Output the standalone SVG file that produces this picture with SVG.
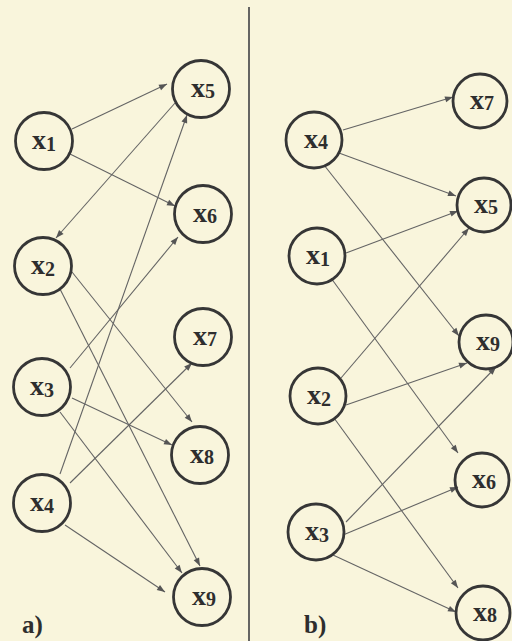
<svg xmlns="http://www.w3.org/2000/svg" width="512" height="641" viewBox="0 0 512 641">
<style>
.bg{fill:#f9f5dc}
.node circle{fill:none;stroke:#363636;stroke-width:2.8}
.node text{font-family:"Liberation Serif","Times New Roman",serif;font-weight:bold;fill:#2e2e2e;text-anchor:middle}
.lx{font-size:28px}
.ld{font-size:20px}
.edges line{stroke:#646464;stroke-width:1.1;marker-end:url(#arr)}
.cap{font-family:"Liberation Serif","Times New Roman",serif;font-weight:bold;font-size:25px;fill:#2e2e2e}
</style>
<defs>
<marker id="arr" viewBox="0 0 8 6" refX="8" refY="3" markerWidth="8" markerHeight="6" markerUnits="userSpaceOnUse" orient="auto" overflow="visible">
<path d="M0,0 L8,3 L0,6 Z" fill="#555"/>
</marker>
</defs>
<rect class="bg" x="0" y="0" width="512" height="641"/>
<line x1="249" y1="7" x2="249" y2="641" stroke="#555" stroke-width="1.8"/>
<g class="edges">
<line x1="72" y1="129" x2="167" y2="84"/>
<line x1="68" y1="153" x2="175" y2="206"/>
<line x1="175" y1="103" x2="56" y2="238"/>
<line x1="70" y1="368" x2="178" y2="237"/>
<line x1="60" y1="474" x2="187" y2="115"/>
<line x1="72" y1="272" x2="192" y2="422"/>
<line x1="60" y1="289" x2="200" y2="566"/>
<line x1="72" y1="398" x2="172" y2="445"/>
<line x1="60" y1="412" x2="182" y2="573"/>
<line x1="70" y1="483" x2="192" y2="363"/>
<line x1="65" y1="525" x2="165" y2="592"/>
<line x1="343" y1="130" x2="453" y2="97"/>
<line x1="339" y1="153" x2="456" y2="196"/>
<line x1="324" y1="165" x2="459" y2="336"/>
<line x1="346" y1="253" x2="458" y2="211"/>
<line x1="331" y1="278" x2="458" y2="453"/>
<line x1="341" y1="378" x2="469" y2="228"/>
<line x1="346" y1="405" x2="467" y2="363"/>
<line x1="334" y1="418" x2="458" y2="588"/>
<line x1="346" y1="522" x2="496" y2="367"/>
<line x1="343" y1="535" x2="458" y2="487"/>
<line x1="333" y1="555" x2="456" y2="612"/>
</g>
<g id="a_x1" class="node"><circle cx="44" cy="141" r="28.5"/><text x="44" y="149"><tspan class="lx">x</tspan><tspan class="ld" dy="2">1</tspan></text></g>
<g id="a_x2" class="node"><circle cx="43" cy="266" r="28.5"/><text x="43" y="274"><tspan class="lx">x</tspan><tspan class="ld" dy="2">2</tspan></text></g>
<g id="a_x3" class="node"><circle cx="42" cy="387" r="28.5"/><text x="42" y="395"><tspan class="lx">x</tspan><tspan class="ld" dy="2">3</tspan></text></g>
<g id="a_x4" class="node"><circle cx="42" cy="503" r="28.5"/><text x="42" y="511"><tspan class="lx">x</tspan><tspan class="ld" dy="2">4</tspan></text></g>
<g id="a_x5" class="node"><circle cx="201" cy="89" r="28.5"/><text x="203" y="97"><tspan class="lx">x</tspan><tspan class="ld" dy="1">5</tspan></text></g>
<g id="a_x6" class="node"><circle cx="203" cy="214" r="28.5"/><text x="205" y="222"><tspan class="lx">x</tspan><tspan class="ld" dy="1">6</tspan></text></g>
<g id="a_x7" class="node"><circle cx="203" cy="337" r="28.5"/><text x="205" y="345"><tspan class="lx">x</tspan><tspan class="ld" dy="1">7</tspan></text></g>
<g id="a_x8" class="node"><circle cx="200" cy="455" r="28.5"/><text x="202" y="463"><tspan class="lx">x</tspan><tspan class="ld" dy="1">8</tspan></text></g>
<g id="a_x9" class="node"><circle cx="202" cy="597" r="28.5"/><text x="204" y="605"><tspan class="lx">x</tspan><tspan class="ld" dy="1">9</tspan></text></g>
<g id="b_x4" class="node"><circle cx="314" cy="140" r="28"/><text x="316" y="148"><tspan class="lx">x</tspan><tspan class="ld" dy="1">4</tspan></text></g>
<g id="b_x1" class="node"><circle cx="317" cy="256" r="28"/><text x="318" y="264"><tspan class="lx">x</tspan><tspan class="ld" dy="2">1</tspan></text></g>
<g id="b_x2" class="node"><circle cx="318" cy="396" r="28"/><text x="319" y="404"><tspan class="lx">x</tspan><tspan class="ld" dy="2">2</tspan></text></g>
<g id="b_x3" class="node"><circle cx="316" cy="532" r="28"/><text x="317" y="540"><tspan class="lx">x</tspan><tspan class="ld" dy="2">3</tspan></text></g>
<g id="b_x7" class="node"><circle cx="480" cy="101" r="27"/><text x="482" y="109"><tspan class="lx">x</tspan><tspan class="ld" dy="1">7</tspan></text></g>
<g id="b_x5" class="node"><circle cx="484" cy="205" r="27"/><text x="486" y="213"><tspan class="lx">x</tspan><tspan class="ld" dy="1">5</tspan></text></g>
<g id="b_x9" class="node"><circle cx="486" cy="342" r="27"/><text x="488" y="350"><tspan class="lx">x</tspan><tspan class="ld" dy="1">9</tspan></text></g>
<g id="b_x6" class="node"><circle cx="482" cy="480" r="27"/><text x="484" y="488"><tspan class="lx">x</tspan><tspan class="ld" dy="1">6</tspan></text></g>
<g id="b_x8" class="node"><circle cx="483" cy="613" r="27"/><text x="485" y="621"><tspan class="lx">x</tspan><tspan class="ld" dy="1">8</tspan></text></g>
<text class="cap" x="22" y="633">a)</text>
<text class="cap" x="304" y="633">b)</text>
</svg>
